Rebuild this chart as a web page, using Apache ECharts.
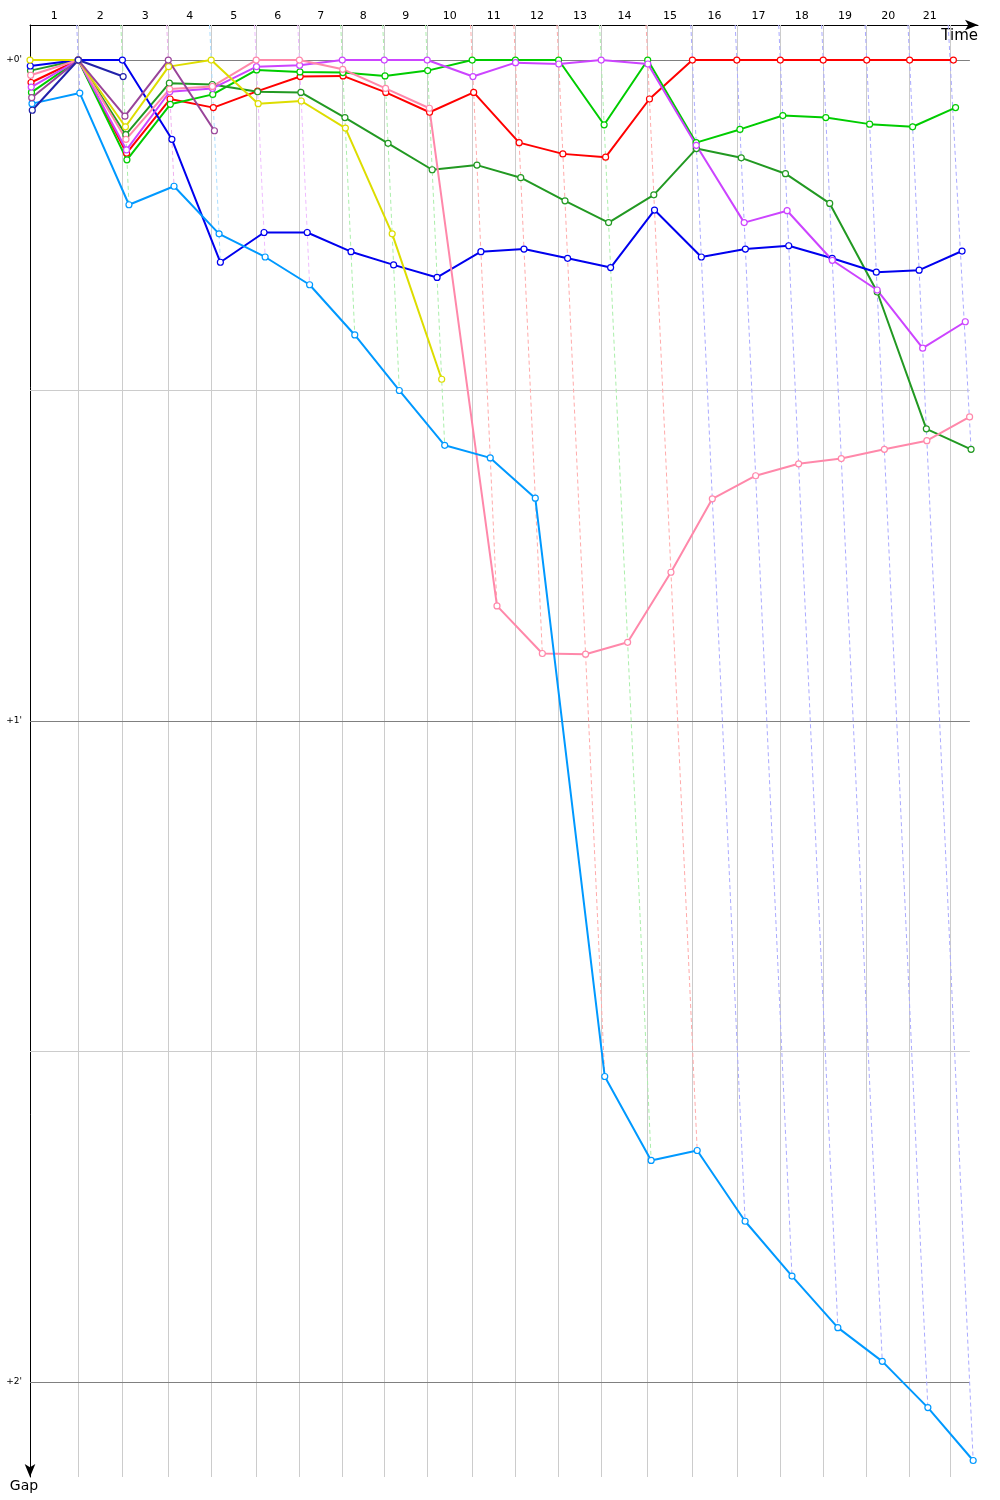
<!DOCTYPE html>
<html>
<head>
<meta charset="utf-8">
<title>Gap chart</title>
<script src="https://cdn.jsdelivr.net/npm/echarts@6/dist/echarts.min.js"></script>
<style>
  html, body { margin: 0; padding: 0; background: #fff; }
  #chart { width: 1000px; height: 1500px; }
</style>
</head>
<body>
<div id="chart"></div>
<script>
// leader crossing time of every lap, minutes (index 0 = start)
var lapTimes = [0, 1.61, 3.08, 4.61, 6.04, 7.54, 8.98, 10.41, 11.81, 13.24, 14.74,
  16.18, 17.62, 19.04, 20.59, 22.08, 23.56, 25.01, 26.44, 27.89, 29.32, 30.78];
// grey lap lines, laps 1..21
var lapLines = [1.61, 3.08, 4.61, 6.04, 7.54, 8.98, 10.41, 11.81, 13.24, 14.74,
  16.18, 17.62, 19.04, 20.59, 22.08, 23.56, 25.01, 26.44, 27.89, 29.32, 30.66];
var lapLabels = ['1', '2', '3', '4', '5', '6', '7', '8', '9', '10', '11',
  '12', '13', '14', '15', '16', '17', '18', '19', '20', '21'];
var lapLineColors = ['#aaaaff', '#aaeeaa', '#eeb0ee', '#aaddff', '#eebbff', '#eebbff',
  '#aaeeaa', '#aaeeaa', '#aaeeaa', '#ffaaaa', '#ffaaaa', '#ffaaaa', '#aaeeaa', '#ffaaaa',
  '#aaaaff', '#aaaaff', '#aaaaff', '#aaaaff', '#aaaaff', '#aaaaff', '#aaaaff'];
var gapTicks = [0, 1, 2];
var gapLines = [0, 0.5, 1, 1.5, 2];

// gap to the leader in minutes, per lap (index 0 = start)
var red = [0.034, 0, 0.141, 0.059, 0.072, 0.047, 0.025, 0.024, 0.049, 0.079, 0.049,
  0.125, 0.142, 0.147, 0.059, 0, 0, 0, 0, 0, 0, 0];
var green = [0.049, 0, 0.151, 0.067, 0.052, 0.015, 0.018, 0.019, 0.024, 0.016, 0,
  0, 0, 0.098, 0, 0.125, 0.105, 0.084, 0.087, 0.097, 0.101, 0.072];
var darkGreen = [0.016, 0, 0.113, 0.035, 0.037, 0.048, 0.049, 0.087, 0.126, 0.166, 0.159,
  0.178, 0.213, 0.246, 0.204, 0.134, 0.148, 0.172, 0.217, 0.351, 0.558, 0.589];
var blue = [0.009, 0, 0, 0.120, 0.306, 0.261, 0.261, 0.290, 0.310, 0.329, 0.290,
  0.286, 0.300, 0.314, 0.227, 0.298, 0.286, 0.281, 0.300, 0.321, 0.318, 0.289];
var magenta = [0.041, 0, 0.136, 0.048, 0.043, 0.010, 0.008, 0, 0, 0, 0.025,
  0.004, 0.006, 0, 0.006, 0.129, 0.246, 0.228, 0.303, 0.348, 0.436, 0.396];
var pink = [0.023, 0, 0.120, 0.044, 0.040, 0, 0, 0.014, 0.043, 0.073, 0.826,
  0.898, 0.899, 0.881, 0.775, 0.664, 0.629, 0.611, 0.603, 0.589, 0.576, 0.540];
var lightBlue = [0.066, 0.050, 0.219, 0.191, 0.263, 0.298, 0.340, 0.416, 0.500, 0.583, 0.602,
  0.663, 1.538, 1.665, 1.650, 1.757, 1.840, 1.918, 1.969, 2.039, 2.119];
var yellow = [0, 0, 0.101, 0.010, 0, 0.066, 0.062, 0.103, 0.263, 0.483];
var purple = [0.057, 0, 0.085, 0, 0.107];
var navy = [0.076, 0, 0.025];

var cars = [
  { gaps: red, color: '#ff0000' },
  { gaps: green, color: '#00cc00' },
  { gaps: darkGreen, color: '#229922' },
  { gaps: blue, color: '#0000ee' },
  { gaps: magenta, color: '#cc44ff' },
  { gaps: pink, color: '#ff88aa' },
  { gaps: lightBlue, color: '#0099ff' },
  { gaps: yellow, color: '#dddd00' },
  { gaps: purple, color: '#994499' },
  { gaps: navy, color: '#2222aa' }
];

var yMin = -0.053, yMax = 2.144, xMax = 31.6, lineEnd = 31.33;

var lapMids = lapLines.map(function (t, i) {
  return ((i === 0 ? 0 : lapLines[i - 1]) + t) / 2;
});

var chart = echarts.init(document.getElementById('chart'));

// grey frame lines
var frame = lapLines.map(function (t) {
  return { coords: [[t, yMin], [t, yMax]], lineStyle: { color: '#cccccc' } };
}).concat(gapLines.map(function (g) {
  return {
    coords: [[0, g], [lineEnd, g]],
    lineStyle: { color: g % 1 === 0 ? '#808080' : '#cccccc' }
  };
}));

// dashed lines joining every car's crossing of the same lap
var lapLinks = lapLines.map(function (t, i) {
  var lap = i + 1, worst = 0;
  cars.forEach(function (c) {
    if (c.gaps[lap] != null && c.gaps[lap] > worst) worst = c.gaps[lap];
  });
  return {
    coords: [[t + yMin, yMin], [lapTimes[lap] + worst, worst]],
    lineStyle: { color: lapLineColors[i] }
  };
});

var series = [
  {
    type: 'lines', coordinateSystem: 'cartesian2d', z: 1, silent: true,
    lineStyle: { width: 1, opacity: 1, type: 'solid' },
    data: frame
  },
  {
    type: 'lines', coordinateSystem: 'cartesian2d', z: 2, silent: true,
    lineStyle: { width: 1, opacity: 1, type: [4, 3] },
    data: lapLinks
  }
];

cars.forEach(function (c) {
  series.push({
    type: 'line',
    z: 3,
    symbol: 'circle',
    symbolSize: 6,
    showAllSymbol: true,
    silent: true,
    lineStyle: { color: c.color, width: 2 },
    itemStyle: { color: '#ffffff', borderColor: c.color, borderWidth: 1.2 },
    data: c.gaps.map(function (g, lap) { return [lapTimes[lap] + g, g]; })
  });
});

var option = {
  animation: false,
  backgroundColor: '#ffffff',
  textStyle: { fontFamily: 'DejaVu Sans' },
  grid: { left: 30, right: 22, top: 25, bottom: 23 },
  xAxis: {
    type: 'value',
    position: 'top',
    min: 0,
    max: xMax,
    name: 'Time',
    nameLocation: 'end',
    nameGap: 0,
    nameTextStyle: { fontSize: 15, color: '#000', align: 'right', verticalAlign: 'top', padding: [4, 0, 0, 0] },
    axisLine: { onZero: false, symbol: ['none', 'arrow'], symbolSize: [8, 13], lineStyle: { color: '#000', width: 1 } },
    axisTick: { show: false },
    splitLine: { show: false },
    axisLabel: {
      customValues: lapMids,
      fontSize: 11,
      color: '#000',
      margin: 3,
      formatter: function (v) {
        for (var i = 0; i < lapMids.length; i++) {
          if (Math.abs(lapMids[i] - v) < 1e-6) return lapLabels[i];
        }
        return '';
      }
    }
  },
  yAxis: {
    type: 'value',
    inverse: true,
    min: yMin,
    max: yMax,
    name: 'Gap',
    nameLocation: 'end',
    nameGap: 2,
    nameTextStyle: { fontSize: 14, color: '#000', align: 'center', verticalAlign: 'top', padding: [0, 12, 0, 0] },
    // inverse axis: the arrow belongs to the bottom end
    axisLine: { onZero: false, symbol: ['arrow', 'none'], symbolSize: [8, 13], lineStyle: { color: '#000', width: 1 } },
    axisTick: { show: false },
    splitLine: { show: false },
    axisLabel: {
      customValues: gapTicks,
      fontSize: 9,
      color: '#000',
      margin: 8,
      formatter: function (v) { return '+' + v + "'"; }
    }
  },
  series: series
};

chart.setOption(option);
</script>
</body>
</html>
